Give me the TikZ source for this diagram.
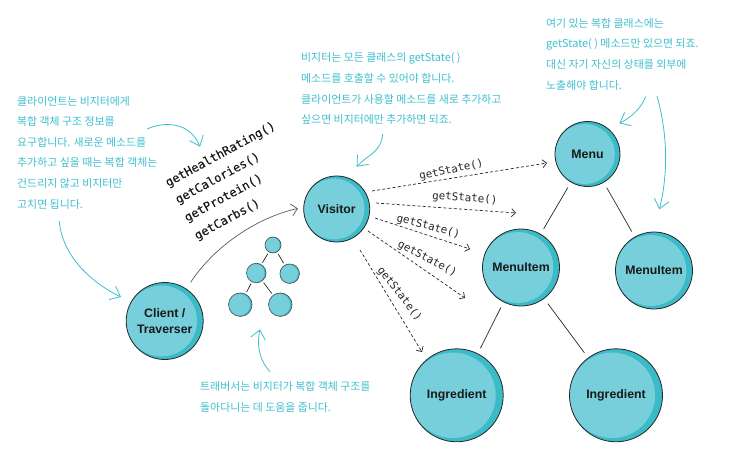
\documentclass[tikz,border=0pt]{standalone}
\usepackage{fontspec}
\usetikzlibrary{arrows.meta,calc}
\newfontfamily\notefont{Noto Sans CJK KR}
\newfontfamily\labelfont{Liberation Sans}
\newfontfamily\codefont[FakeBold=0.12]{DejaVu Sans Mono}
\newfontfamily\statefont{DejaVu Sans Mono}
\definecolor{balllight}{HTML}{76CFDB}
\definecolor{balldark}{HTML}{3BBAC7}
\definecolor{noteteal}{HTML}{3DBFCE}
\tikzset{
  ball/.style={circle,minimum size=#1*1pt,inner sep=0pt,draw=black!85,line width=0.8pt,fill=balldark,
    font=\labelfont\bfseries\fontsize{12.3}{15.5}\selectfont,align=center,text=black!90,
    path picture={\fill[balllight] ([xshift=-#1*0.04pt]path picture bounding box.center) circle[radius=#1*0.46];}},
  smallball/.style={ball=#1,line width=0.6pt,draw=black!70},
  note/.style={anchor=west,align=left,inner sep=0pt,text=noteteal,font=\notefont\fontsize{10.9}{20.6}\selectfont},
  methodtext/.style={anchor=base west,inner sep=0pt,font=\codefont\fontsize{12}{14}\selectfont,text=black!90},
  statetext/.style={anchor=base west,inner sep=0pt,font=\statefont\fontsize{10.8}{13}\selectfont,text=black!85},
  treeline/.style={draw=black!85,line width=0.7pt,shorten <=6pt,shorten >=6pt},
  smalltree/.style={draw=black!85,line width=0.7pt,shorten <=2pt,shorten >=2pt},
  call/.style={draw=black!85,line width=0.7pt,dash pattern=on 3pt off 2.2pt,-{Straight Barb[length=4pt,width=8pt]}},
  notearrow/.style={draw=noteteal,line width=0.8pt,-{Straight Barb[length=9pt,width=15pt]}},
  travel/.style={draw=black!65,line width=0.7pt,-{Straight Barb[length=6pt,width=12pt]}},
}
\begin{document}
\begin{tikzpicture}[x=1pt,y=-1pt]
\useasboundingbox (0,0) rectangle (730,460);
% main nodes
\node[ball=77] (client) at (164.7,321) {Client /\\Traverser};
\node[ball=66] (visitor) at (336.7,209) {Visitor};
\node[ball=65] (menu) at (587.5,154) {Menu};
\node[ball=77] (itema) at (521,267.5) {MenuItem};
\node[ball=77] (itemb) at (654,270.5) {MenuItem};
\node[ball=93] (inga) at (456.7,395.3) {Ingredient};
\node[ball=93] (ingb) at (616,395.3) {Ingredient};
% small tree
\node[smallball=16] (t0) at (273,245) {};
\node[smallball=19.5] (t1) at (256.3,273) {};
\node[smallball=19.5] (t2) at (289.7,273.7) {};
\node[smallball=23.5] (t3) at (240.3,304.7) {};
\node[smallball=23.5] (t4) at (280.3,304.7) {};
\draw[smalltree] (t0) -- (t1);
\draw[smalltree] (t0) -- (t2);
\draw[smalltree] (t1) -- (t3);
\draw[smalltree] (t1) -- (t4);
% tree lines
\draw[treeline] (menu) -- (itema);
\draw[treeline] (menu) -- (itemb);
\draw[treeline] (itema) -- (inga);
\draw[treeline] (itema) -- (ingb);
% dashed calls
\draw[call] ($(visitor)+(35.3,-18)$) -- ($(menu)+(-40.5,9)$);
\draw[call] ($(visitor)+(39.3,-6)$) -- ($(itema)+(-5,-54.5)$);
\draw[call] ($(visitor)+(38.3,9)$) -- ($(itema)+(-51,-18.5)$);
\draw[call] ($(visitor)+(31.3,22)$) -- ($(itema)+(-56,30.5)$);
\draw[call] ($(visitor)+(23.3,41)$) -- ($(inga)+(-34.7,-43.3)$);
% call labels
\node[statetext,rotate=12] (s1) at (420,180) {getState()};
\node[statetext,rotate=-4] (s2) at (432,199) {getState()};
\node[statetext,rotate=-15] (s3) at (396,221) {getState()};
\node[statetext,rotate=-28] (s4) at (397,246) {getState()};
\node[statetext,rotate=-52] (s5) at (377,270) {getState()};
% methods
\node[methodtext,rotate=28.5] (m1) at (168,187) {getHealthRating()};
\node[methodtext,rotate=28.5] (m2) at (178,204) {getCalories()};
\node[methodtext,rotate=28.5] (m3) at (187,222) {getProtein()};
\node[methodtext,rotate=28.5] (m4) at (197,240) {getCarbs()};
% client to visitor
\draw[travel,shorten <=7.6pt,shorten >=5.6pt] (client.56) .. controls (213,248) and (255,218) .. (visitor.177);
% notes
\node[note] (noteleft) at (17,152.5) {클라이언트는 비지터에게\\복합 객체 구조 정보를\\요구합니다. 새로운 메소드를\\추가하고 싶을 때는 복합 객체는\\건드리지 않고 비지터만\\고치면 됩니다.};
\node[note] (notetop) at (301,88.7) {비지터는 모든 클래스의 getState( )\\메소드를 호출할 수 있어야 합니다.\\클라이언트가 사용할 메소드를 새로 추가하고\\싶으면 비지터에만 추가하면 되죠.};
\node[note] (noteright) at (546,54) {여기 있는 복합 클래스에는\\getState( ) 메소드만 있으면 되죠.\\대신 자기 자신의 상태를 외부에\\노출해야 합니다.};
\node[note] (notebottom) at (200,397) {트래버서는 비지터가 복합 객체 구조를\\돌아다니는 데 도움을 줍니다.};
% note arrows
\coordinate (a0) at (147,129); \coordinate (a1) at (200,146.7);
\draw[notearrow] (a0) .. controls (165,121) and (190,122) .. (a1);
\coordinate (b0) at (59.3,221); \coordinate (b1) at (121,297);
\draw[notearrow] (b0) .. controls (62,255) and (90,282) .. (b1);
\coordinate (c0) at (382.7,134); \coordinate (c1) at (356.7,166.7);
\draw[notearrow] (c0) .. controls (381,153) and (367,155) .. (c1);
\coordinate (d0) at (645.7,96.7); \coordinate (d1) at (619.3,123.3);
\draw[notearrow] (d0) .. controls (640,110) and (630,118) .. (d1);
\coordinate (e0) at (657,96); \coordinate (e1) at (659.3,209.3);
\draw[notearrow] (e0) .. controls (668,135) and (668,175) .. (e1);
\coordinate (f0) at (270,371.7); \coordinate (f1) at (260,329.3);
\draw[notearrow] (f0) .. controls (261,362) and (256,348) .. (f1);
\end{tikzpicture}
\end{document}
